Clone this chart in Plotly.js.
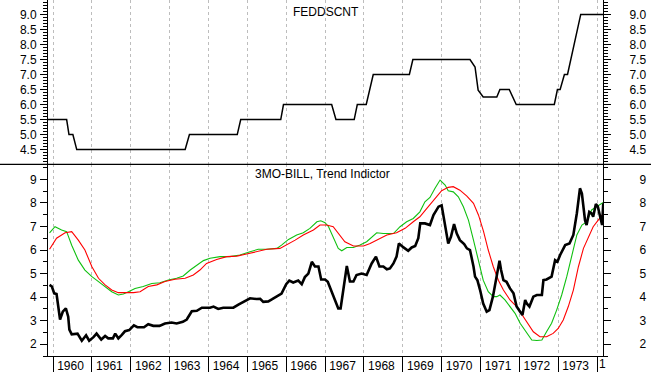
<!DOCTYPE html>
<html><head><meta charset="utf-8">
<script src="https://cdn.plot.ly/plotly-3.0.1.min.js"></script>
<style>html,body{margin:0;padding:0;background:#fff;overflow:hidden}</style>
</head><body><div id="chart" style="width:651px;height:372px"></div>
<script>
// ---- data ----
const yearTicks = [1960,1961,1962,1963,1964,1965,1966,1967,1968,1969,1970,1971,1972,1973,1974];
const yearLabels = ['1960','1961','1962','1963','1964','1965','1966','1967','1968','1969','1970','1971','1972','1973'];
const clippedYearLabel = '1';   // visible remnant of the clipped "1974" label

const fedTickVals = [4.5,5.0,5.5,6.0,6.5,7.0,7.5,8.0,8.5,9.0];
const fedTickText = ['4.5','5.0','5.5','6.0','6.5','7.0','7.5','8.0','8.5','9.0'];
const billTickVals = [2,3,4,5,6,7,8,9];
const billTickText = ['2','3','4','5','6','7','8','9'];

const fedX = [1959.87,1960.35,1960.41,1960.51,1960.61,1963.40,1963.51,1964.74,1964.83,1965.86,1965.93,1967.17,1967.28,1967.75,1967.83,1968.06,1968.24,1969.17,1969.26,1970.73,1970.86,1970.94,1971.07,1971.42,1971.50,1971.74,1971.92,1972.90,1972.98,1973.05,1973.16,1973.24,1973.58,1974.16];
const fedY = [5.5,5.5,5.0,5.0,4.5,4.5,5.0,5.0,5.5,5.5,6.0,6.0,5.5,5.5,6.0,6.0,7.0,7.0,7.5,7.5,7.25,6.48,6.25,6.25,6.5,6.5,6.0,6.0,6.5,6.5,7.0,7.0,9.0,9.0];

const billX = [1959.91,1959.97,1960.03,1960.09,1960.18,1960.25,1960.33,1960.39,1960.42,1960.48,
1960.63,1960.74,1960.85,1960.93,1961.04,1961.12,1961.24,1961.34,1961.42,1961.54,
1961.60,1961.68,1961.77,1961.85,1961.96,1962.08,1962.17,1962.34,1962.45,1962.58,
1962.74,1962.88,1963.05,1963.18,1963.34,1963.44,1963.57,1963.70,1963.83,1964.04,
1964.13,1964.25,1964.38,1964.64,1964.77,1964.94,1965.07,1965.24,1965.33,1965.41,
1965.54,1965.63,1965.76,1965.88,1966.00,1966.08,1966.18,1966.31,1966.40,1966.48,
1966.57,1966.66,1966.74,1966.83,1966.90,1967.00,1967.07,1967.17,1967.26,1967.34,
1967.40,1967.47,1967.56,1967.64,1967.73,1967.81,1967.94,1968.07,1968.20,1968.31,
1968.40,1968.50,1968.59,1968.67,1968.76,1968.84,1968.90,1969.02,1969.14,1969.23,
1969.32,1969.40,1969.45,1969.57,1969.70,1969.79,1969.92,1970.00,1970.09,1970.17,
1970.24,1970.32,1970.39,1970.47,1970.58,1970.65,1970.73,1970.77,1970.82,1970.86,
1970.92,1970.99,1971.07,1971.16,1971.23,1971.32,1971.40,1971.49,1971.53,1971.59,
1971.67,1971.76,1971.85,1971.93,1972.02,1972.08,1972.15,1972.19,1972.26,1972.36,
1972.45,1972.58,1972.62,1972.70,1972.83,1972.92,1972.98,1973.05,1973.18,1973.29,
1973.39,1973.48,1973.56,1973.61,1973.69,1973.73,1973.80,1973.86,1973.90,1973.97,
1974.02,1974.10,1974.13,1974.16];
const billY = [4.52,4.45,4.16,4.13,3.05,3.38,3.52,3.17,2.62,2.42,
2.45,2.15,2.38,2.15,2.30,2.45,2.20,2.35,2.25,2.25,
2.45,2.25,2.40,2.55,2.60,2.80,2.72,2.72,2.85,2.78,
2.78,2.88,2.92,2.88,2.95,3.05,3.40,3.42,3.55,3.55,
3.60,3.50,3.55,3.55,3.68,3.85,3.95,3.92,3.93,3.80,
3.82,3.90,4.05,4.15,4.55,4.70,4.62,4.70,4.55,4.85,
5.00,5.50,5.30,5.30,4.75,4.75,4.65,4.23,3.80,3.52,
3.52,4.30,5.32,4.66,4.66,4.94,5.00,4.94,5.43,5.72,
5.30,5.30,5.18,5.22,5.43,5.72,6.28,6.11,5.97,6.11,
6.17,6.50,7.13,7.13,7.06,7.48,7.84,7.90,6.98,6.28,
6.56,7.10,6.70,6.42,6.25,6.07,6.00,5.72,5.30,4.87,
4.72,4.30,3.73,3.38,3.45,4.02,4.72,5.55,5.15,4.72,
4.65,4.37,4.16,3.60,3.38,3.24,3.88,3.73,3.60,4.02,
4.09,4.09,4.72,4.75,4.87,5.57,5.50,5.79,6.21,6.28,
6.64,7.56,8.62,8.40,7.27,7.06,7.62,7.56,7.41,7.95,
7.84,7.34,7.06,7.98];

const greenX = [1959.91,1960.05,1960.22,1960.35,1960.48,1960.65,1960.82,1961.00,1961.17,1961.34,
1961.51,1961.68,1961.81,1961.94,1962.11,1962.32,1962.54,1962.75,1962.97,1963.18,
1963.35,1963.53,1963.70,1963.87,1964.04,1964.30,1964.55,1964.81,1965.07,1965.28,
1965.50,1965.76,1965.88,1966.06,1966.27,1966.44,1966.61,1966.79,1966.89,1967.00,
1967.09,1967.21,1967.34,1967.43,1967.56,1967.73,1967.90,1968.07,1968.20,1968.33,
1968.50,1968.76,1968.93,1969.10,1969.27,1969.44,1969.57,1969.70,1969.83,1969.96,
1970.09,1970.17,1970.30,1970.43,1970.56,1970.69,1970.82,1970.94,1971.07,1971.20,
1971.33,1971.42,1971.50,1971.63,1971.76,1971.89,1972.02,1972.15,1972.32,1972.45,
1972.58,1972.70,1972.83,1972.96,1973.09,1973.22,1973.35,1973.48,1973.61,1973.74,
1973.86,1973.99,1974.16];
const greenY = [6.73,6.99,6.85,6.78,6.20,5.57,5.15,4.87,4.66,4.45,
4.23,4.09,4.13,4.23,4.37,4.45,4.58,4.61,4.73,4.80,
4.90,5.15,5.36,5.55,5.65,5.72,5.72,5.79,5.93,6.03,
6.03,6.07,6.21,6.45,6.64,6.73,6.92,7.20,7.24,7.16,
6.99,6.56,6.07,5.97,6.11,6.11,6.21,6.35,6.53,6.73,
6.70,6.70,6.99,7.20,7.34,7.62,8.05,8.23,8.62,8.97,
8.76,8.52,8.47,8.26,7.84,7.27,6.42,5.57,4.72,4.23,
4.02,4.02,4.09,3.88,3.60,3.31,2.89,2.60,2.18,2.16,
2.18,2.53,2.89,3.45,4.09,4.87,5.79,6.64,7.06,7.20,
7.70,7.84,8.02];

const redX = [1959.91,1960.09,1960.31,1960.48,1960.65,1960.82,1961.00,1961.17,1961.34,1961.51,
1961.68,1961.90,1962.07,1962.24,1962.45,1962.67,1962.88,1963.14,1963.40,1963.61,
1963.78,1963.95,1964.21,1964.47,1964.73,1964.98,1965.24,1965.50,1965.84,1966.01,
1966.23,1966.44,1966.70,1966.87,1967.04,1967.21,1967.34,1967.51,1967.73,1967.99,
1968.16,1968.37,1968.59,1968.84,1969.06,1969.27,1969.44,1969.62,1969.83,1970.00,
1970.17,1970.30,1970.47,1970.65,1970.82,1970.95,1971.08,1971.20,1971.33,1971.46,
1971.59,1971.76,1971.93,1972.10,1972.23,1972.36,1972.53,1972.70,1972.87,1973.00,
1973.13,1973.26,1973.39,1973.52,1973.65,1973.78,1973.90,1974.03,1974.16];
const redY = [6.03,6.50,6.73,6.78,6.42,6.00,5.29,4.80,4.52,4.30,
4.19,4.19,4.19,4.23,4.45,4.52,4.66,4.76,4.80,4.94,
5.15,5.43,5.60,5.72,5.74,5.83,5.93,6.03,6.07,6.21,
6.42,6.64,6.85,7.06,7.06,6.99,6.70,6.35,6.17,6.17,
6.28,6.45,6.64,6.73,6.92,7.20,7.41,7.77,8.19,8.52,
8.66,8.69,8.54,8.29,7.98,7.48,6.78,6.00,5.29,4.72,
4.30,3.88,3.60,3.17,2.82,2.53,2.32,2.32,2.46,2.67,
3.03,3.60,4.30,5.29,6.07,6.56,6.99,7.27,7.55];

const topTitle = 'FEDDSCNT';
const bottomTitle = '3MO-BILL, Trend Indictor';

// ---- layout ----
const FONT = 'Liberation Sans, Arial, sans-serif';
const XR = [1959.87, 1974.153];
const TOPR = [4.01, 9.48];
const BOTR = [1.5, 9.64];
const SPLIT = 0.5385;

const traces = [
  {x: fedX, y: fedY, xaxis: 'x', yaxis: 'y', mode: 'lines', line: {color: '#000', width: 1.5}, hoverinfo: 'skip'},
  {x: greenX, y: greenY, xaxis: 'x', yaxis: 'y2', mode: 'lines', line: {color: '#10c010', width: 1.1}, hoverinfo: 'skip'},
  {x: redX, y: redY, xaxis: 'x', yaxis: 'y2', mode: 'lines', line: {color: '#ff0000', width: 1.1}, hoverinfo: 'skip'},
  {x: billX, y: billY, xaxis: 'x', yaxis: 'y2', mode: 'lines', line: {color: '#000', width: 2.6}, hoverinfo: 'skip'},
  {x: [], y: [], xaxis: 'x', yaxis: 'y3', hoverinfo: 'skip'},
  {x: [], y: [], xaxis: 'x', yaxis: 'y4', hoverinfo: 'skip'},
  {x: [], y: [], xaxis: 'x2', yaxis: 'y2', hoverinfo: 'skip'}
];

const tickFont = {family: FONT, size: 12, color: '#000'};
function yAx(domain, range, vals, text, side, standoff, minorDtick, overlay) {
  const a = {
    domain: domain, range: range, fixedrange: true, side: side, anchor: 'x',
    tickmode: 'array', tickvals: vals, ticktext: text,
    ticks: 'outside', ticklen: 7, tickwidth: 1, tickcolor: '#000',
    ticklabelstandoff: standoff,
    showline: true, linecolor: '#000', linewidth: 1,
    showgrid: false, zeroline: false, tickfont: tickFont,
    minor: {tickmode: 'linear', tick0: 0, dtick: minorDtick, ticks: 'outside', ticklen: 4, tickcolor: '#000', showgrid: false}
  };
  if (overlay) a.overlaying = overlay;
  return a;
}

const layout = {
  width: 651, height: 372,
  margin: {l: 48, r: 48, t: 0, b: 16, pad: 0},
  paper_bgcolor: '#fff', plot_bgcolor: '#fff',
  showlegend: false,
  font: {family: FONT, size: 12, color: '#000'},
  xaxis: {
    domain: [0, 1], range: XR, fixedrange: true, anchor: 'y2',
    tickmode: 'array', tickvals: yearTicks, showticklabels: false,
    ticks: 'outside', ticklen: 16, tickwidth: 1, tickcolor: '#000',
    showgrid: true, gridcolor: '#bdbdbd', gridwidth: 1, griddash: '3px,3px',
    showline: true, linecolor: '#000', linewidth: 1, zeroline: false
  },
  xaxis2: {
    overlaying: 'x', range: XR, fixedrange: true, anchor: 'y2', side: 'bottom',
    tickmode: 'array', tickvals: yearLabels.map(s => Number(s) + 0.45), ticktext: yearLabels,
    ticks: '', showgrid: false, showline: false, zeroline: false,
    tickfont: tickFont, ticklabelstandoff: 1
  },
  yaxis: yAx([SPLIT, 1], TOPR, fedTickVals, fedTickText, 'left', 1, 0.1, null),
  yaxis3: yAx([SPLIT, 1], TOPR, fedTickVals, fedTickText, 'right', 16, 0.1, 'y'),
  yaxis2: yAx([0, SPLIT], BOTR, billTickVals, billTickText, 'left', 1, 0.5, null),
  yaxis4: yAx([0, SPLIT], BOTR, billTickVals, billTickText, 'right', 26, 0.5, 'y2'),
  shapes: [
    {type: 'line', xref: 'paper', yref: 'paper', x0: -0.1, x1: 1.1, y0: SPLIT, y1: SPLIT, line: {color: '#000', width: 1.2}}
  ],
  annotations: [
    {text: topTitle, xref: 'paper', yref: 'paper', x: 0.501, y: 1 - 12/356, xanchor: 'center', yanchor: 'middle', showarrow: false, font: {family: FONT, size: 12, color: '#000'}},
    {text: bottomTitle, xref: 'paper', yref: 'paper', x: 0.495, y: 1 - 174/356, xanchor: 'center', yanchor: 'middle', showarrow: false, font: {family: FONT, size: 12, color: '#000'}},
    {text: clippedYearLabel, xref: 'x', yref: 'paper', x: yearTicks[yearTicks.length - 1] + 0.01, y: -8/356, xanchor: 'left', yanchor: 'middle', showarrow: false, font: {family: FONT, size: 12, color: '#000'}}
  ]
};

Plotly.newPlot('chart', traces, layout, {staticPlot: true, displayModeBar: false});
</script>
</body></html>
